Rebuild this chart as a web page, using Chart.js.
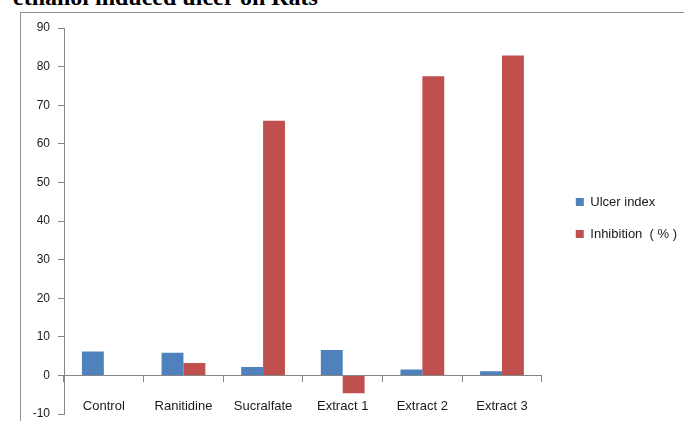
<!DOCTYPE html>
<html>
<head>
<meta charset="utf-8">
<script src="https://cdn.jsdelivr.net/npm/chart.js@4/dist/chart.umd.min.js"></script>
<style>
  html, body { margin: 0; padding: 0; background: #fff; }
  #wrap { position: relative; width: 684px; height: 421px; overflow: hidden; }
  #heading {
    position: absolute; left: 13px; top: -15px; white-space: nowrap;
    font-family: "Liberation Serif", "Times New Roman", serif;
    font-weight: bold; font-size: 24px; line-height: 24px; color: #000;
  }
  #frame {
    position: absolute; left: 20px; top: 12px; width: 800px; height: 600px;
    border: 1px solid #8f8f8f;
  }
  #chart { position: absolute; left: 0; top: 0; }
</style>
</head>
<body>
<div id="wrap">
  <div id="heading">ethanol induced ulcer on Rats</div>
  <div id="frame"></div>
  <canvas id="chart" width="684" height="421"></canvas>
</div>
<script>
// Treatment groups along the category axis
const groups = ['Control', 'Ranitidine', 'Sucralfate', 'Extract 1', 'Extract 2', 'Extract 3'];

// Series values per group
const ulcerIndex = [6.2, 5.9, 2.2, 6.6, 1.5, 1.1];
const inhibition = [0, 3.2, 66, -4.6, 77.5, 82.9];

// Series names
const seriesNames = ['Ulcer index', 'Inhibition  ( % )'];

// Value axis range and step
const yMin = -10;
const yMax = 90;
const yStep = 10;

const axisGrey = '#868686';
const textColor = '#1a1a1a';

Chart.defaults.font.family = '"Liberation Sans", Arial, sans-serif';
Chart.defaults.color = textColor;

new Chart(document.getElementById('chart'), {
  type: 'bar',
  data: {
    labels: groups,
    datasets: [
      { label: seriesNames[0], data: ulcerIndex, backgroundColor: '#4F81BD', borderWidth: 0 },
      { label: seriesNames[1], data: inhibition, backgroundColor: '#C0504D', borderWidth: 0 }
    ]
  },
  options: {
    responsive: false,
    animation: false,
    devicePixelRatio: 1,
    layout: { padding: { left: 0, right: -3, top: 15, bottom: 0 } },
    datasets: { bar: { categoryPercentage: 0.55, barPercentage: 1 } },
    scales: {
      x: {
        position: { y: 0 },
        offset: true,
        grid: { offset: true, drawOnChartArea: false, drawTicks: true, tickLength: 6, color: axisGrey },
        border: { display: true, color: axisGrey, width: 1 },
        ticks: { padding: 17, font: { size: 13 }, color: textColor, maxRotation: 0 }
      },
      y: {
        position: 'left',
        min: yMin,
        max: yMax,
        grid: { drawOnChartArea: false, drawTicks: true, tickLength: 6, color: axisGrey },
        border: { display: true, color: axisGrey, width: 1 },
        ticks: { stepSize: yStep, padding: 8, font: { size: 12 }, color: textColor },
        // fixed axis width and plot margins above / below
        afterFit(scale) {
          scale.width = 64;
          scale.paddingTop = 28;
          scale.paddingBottom = 7;
        }
      },
      // hidden spacer between the plot and the legend
      gap: {
        type: 'linear',
        position: 'right',
        display: false,
        afterFit(scale) { scale.width = 15; }
      }
    },
    plugins: {
      title: { display: false },
      tooltip: { enabled: false },
      legend: {
        position: 'right',
        labels: { boxWidth: 8, boxHeight: 8, padding: 19, font: { size: 13 }, color: textColor }
      }
    }
  }
});
</script>
</body>
</html>
